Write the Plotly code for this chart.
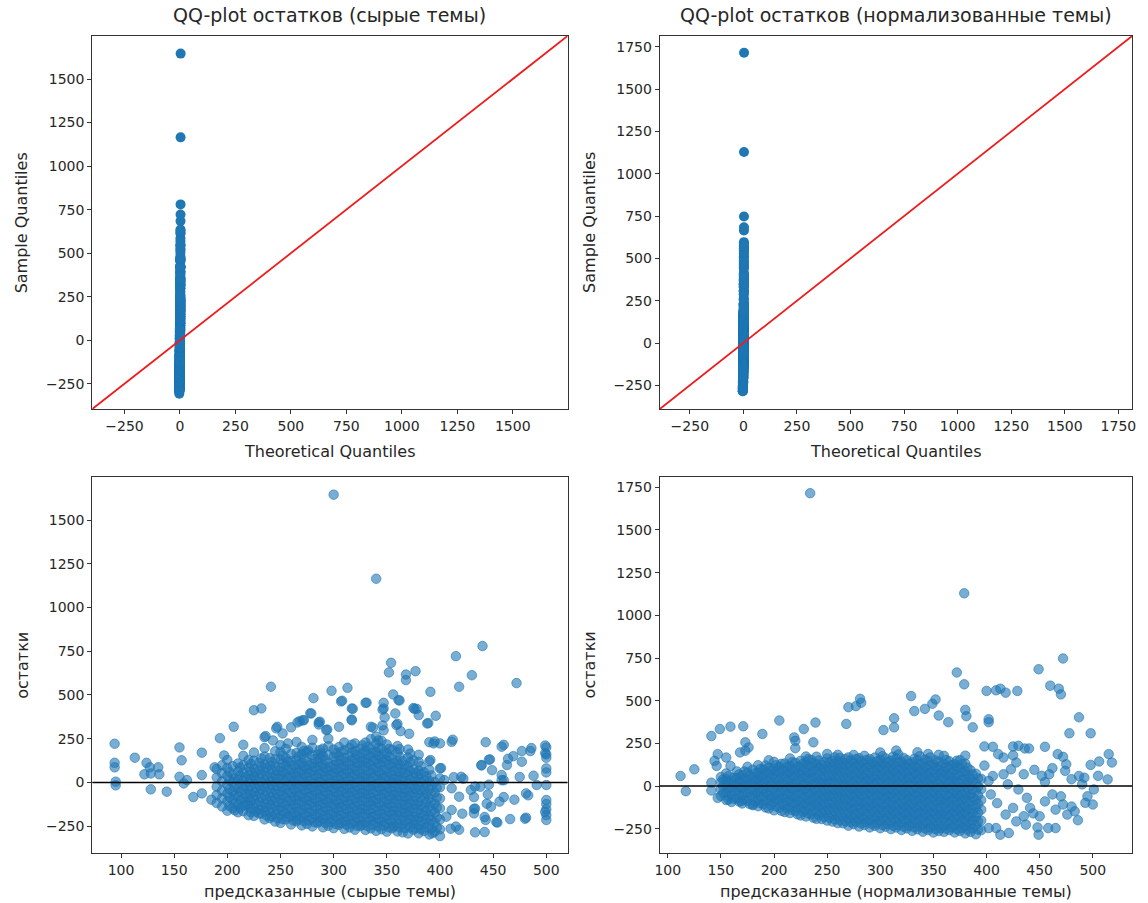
import plotly.graph_objects as go
from statistics import NormalDist

# ---------------- data: raw topics (predicted, residual) ----------------
raw_sparse = [
    (300, 1646), (340, 1165), (440, 780), (415, 722), (472, 568), (430, 613), (418, 547),
    (354, 684), (352, 629), (377, 636), (368, 617), (368, 585), (241, 547), (298, 524),
    (313, 541), (308, 467), (317, 423), (281, 482), (279, 394), (225, 413), (232, 423),
    (330, 455), (356, 503), (361, 470), (347, 455), (347, 423), (375, 425), (378, 421),
    (391, 518), (380, 385), (396, 381), (388, 337), (358, 394), (317, 360), (287, 347),
    (286, 331), (268, 350), (272, 356), (206, 318), (247, 318), (305, 318), (293, 299),
    (335, 318), (346, 326), (359, 328), (363, 293), (193, 253), (236, 265), (215, 215),
    (94, 221), (155, 200), (157, 126), (176, 170), (113, 141), (94, 112), (94, 86),
    (124, 112), (127, 86), (122, 46), (128, 51), (135, 86), (136, 46), (95, 4), (95, -17),
    (128, -40), (143, -53), (155, 32), (159, -6), (162, 13), (168, -84), (176, -63),
    (185, -99), (188, 86), (176, 42), (411, 232), (443, 230), (458, 204), (500, 200),
    (500, 160), (500, 141), (500, 80), (500, 57), (500, -15), (500, -101), (500, -124),
    (500, -154), (500, -187), (500, -215), (491, -15), (488, 38), (477, 118), (469, 150),
    (485, 179), (477, 179), (470, -99), (481, -63), (481, -202), (466, -210), (454, -230),
    (443, -215), (433, -286), (445, -69), (448, -139), (438, -25), (439, 99), (447, 131),
    (449, 70), (458, 42), (463, 99), (458, 13), (456, -110), (432, -152), (432, -177),
    (411, -158), (415, -253), (406, -196), (400, -307), (393, -291), (404, 13), (400, 80),
    (420, 32), (411, -34), (418, -82), (429, -44), (394, 223), (400, 223), (391, 128),
    (197, 154), (235, 258), (246, 309), (252, 280), (260, 315), (266, 343), (271, 355),
    (278, 395), (243, 240), (257, 223), (276, 183), (288, 166), (286, 343), (307, 463),
    (318, 421), (331, 456), (362, 469), (376, 421), (294, 302), (317, 355), (337, 313),
    (347, 298), (346, 416), (348, 372), (360, 335), (371, 278), (389, 339), (390, 230),
    (395, 234), (412, 244), (460, 215), (486, 196), (499, 211), (499, 168), (439, 97),
    (446, 130), (464, 135), (401, 82), (413, 30), (422, 21), (433, -24), (446, -13),
    (460, 12), (475, 31), (432, -84), (444, -122), (460, -84), (483, -74), (499, -169),
    (442, -198), (453, -227), (480, -208), (442, -284), (421, -179), (433, -150),
    (410, -265), (418, -271),
]
raw_core = [
    (190, [-118, -72, -25, 28, 76]),
    (195, [-138, -92, -48, 6, 52, 98]),
    (200, [-162, -108, -63, -14, 37, 82, 128]),
    (205, [-148, -101, -52, 2, 44, 93]),
    (210, [-171, -126, -78, -33, 17, 63, 108]),
    (215, [-165, -133, -91, -38, 11, 57, 99, 152]),
    (220, [-188, -128, -87, -43, 2, 41, 86, 128]),
    (225, [-192, -147, -98, -57, -8, 36, 78, 124, 171]),
    (230, [-178, -157, -112, -63, -22, 27, 71, 113]),
    (235, [-212, -163, -121, -77, -28, 13, 62, 103, 148, 196]),
    (240, [-205, -168, -127, -82, -38, 7, 48, 97, 138]),
    (245, [-224, -182, -133, -92, -43, 2, 43, 92, 133, 178]),
    (250, [-232, -183, -142, -93, -52, -3, 42, 83, 132, 173, 213]),
    (255, [-212, -177, -128, -87, -38, 7, 48, 97, 138, 192]),
    (260, [-241, -193, -152, -103, -62, -13, 32, 73, 122, 163]),
    (265, [-222, -192, -143, -102, -53, -12, 37, 78, 127, 168, 231]),
    (270, [-246, -198, -157, -108, -67, -18, 23, 72, 113, 162, 203]),
    (275, [-238, -197, -148, -107, -58, -17, 32, 73, 118, 172]),
    (280, [-252, -203, -162, -113, -72, -23, 18, 67, 108, 157, 198, 243]),
    (285, [-231, -202, -153, -112, -63, -22, 27, 68, 117, 158]),
    (290, [-257, -208, -167, -118, -77, -28, 13, 62, 103, 152, 193]),
    (295, [-248, -207, -158, -117, -68, -27, 22, 63, 112, 158, 207, 250]),
    (300, [-262, -213, -172, -123, -82, -33, 8, 57, 98, 147, 188]),
    (305, [-243, -212, -163, -122, -73, -32, 17, 58, 107, 148, 202]),
    (310, [-266, -218, -177, -128, -87, -38, 3, 52, 93, 142, 183, 228]),
    (315, [-258, -217, -168, -127, -78, -37, 12, 53, 102, 148, 197]),
    (320, [-271, -223, -182, -133, -92, -43, -2, 47, 88, 137, 178, 223]),
    (325, [-250, -222, -173, -132, -83, -42, 7, 48, 97, 138, 192]),
    (330, [-272, -227, -178, -137, -88, -47, 2, 43, 92, 133, 182, 228]),
    (335, [-263, -218, -177, -128, -87, -38, 3, 52, 98, 147, 193, 248]),
    (340, [-277, -228, -187, -138, -97, -48, -7, 42, 83, 132, 173, 222, 262]),
    (345, [-268, -227, -178, -137, -88, -47, 2, 43, 97, 138, 192, 238]),
    (350, [-282, -233, -192, -143, -102, -53, -12, 37, 78, 127, 168, 217]),
    (355, [-262, -232, -183, -142, -93, -52, -3, 38, 87, 133, 187]),
    (360, [-281, -237, -188, -147, -98, -57, -8, 33, 82, 123, 172, 208]),
    (365, [-286, -238, -197, -148, -107, -58, -17, 32, 73, 122]),
    (370, [-292, -237, -188, -147, -98, -57, -8, 42, 88, 142, 188]),
    (375, [-271, -238, -197, -148, -107, -58, -17, 32, 73, 127]),
    (380, [-291, -243, -202, -153, -112, -63, -22, 27, 68, 117, 158]),
    (385, [-278, -237, -188, -142, -88, -42, 12, 58]),
    (390, [-298, -238, -192, -138, -92, -38, 8, 72, 120]),
    (395, [-283, -232, -173, -122, -58, 2]),
    (400, [-268, -212, -148, -92, -28, 22]),
]
raw_core_dense = [
    (202, [-135, -85, -38, 12, 60]),
    (207, [-160, -122, -75, -25, 20]),
    (212, [-148, -103, -55, -8, 40, 85]),
    (217, [-130, -112, -65, -20, 33]),
    (222, [-170, -150, -107, -65, -22, 20, 62, 105]),
    (227, [-168, -122, -78, -33, 14, 57]),
    (232, [-178, -135, -88, -42, 3, 48, 92, 137]),
    (237, [-190, -143, -98, -52, -8, 38, 83]),
    (242, [-195, -148, -103, -60, -17, 28, 72, 116]),
    (247, [-205, -158, -113, -67, -22, 22, 67]),
    (252, [-210, -162, -118, -72, -28, 18, 62, 108, 152]),
    (257, [-198, -153, -108, -62, -18, 27, 72, 118]),
    (262, [-218, -172, -128, -82, -38, 8, 52, 98]),
    (267, [-212, -168, -122, -78, -32, 13, 58, 103, 148]),
    (272, [-222, -178, -132, -88, -42, 3, 48, 93, 138, 180]),
    (277, [-217, -172, -128, -82, -37, 8, 53, 97]),
    (282, [-228, -182, -138, -92, -47, -2, 43, 88, 133]),
    (287, [-222, -178, -132, -87, -42, 3, 48, 93, 137, 185]),
    (292, [-232, -188, -142, -97, -52, -7, 38, 83, 128]),
    (297, [-228, -183, -137, -92, -47, -2, 43, 88]),
    (302, [-238, -192, -148, -102, -57, -12, 33, 78, 122, 168]),
    (307, [-232, -187, -142, -97, -52, -7, 38, 83, 128, 175]),
    (312, [-242, -197, -152, -107, -62, -17, 28, 73, 118]),
    (317, [-237, -192, -147, -102, -57, -12, 33, 78, 125, 172, 215]),
    (322, [-248, -202, -158, -112, -67, -22, 23, 68, 112, 158]),
    (327, [-242, -197, -152, -107, -62, -17, 28, 73, 118, 165, 212]),
    (332, [-250, -203, -157, -112, -67, -22, 23, 68, 113, 158, 205]),
    (337, [-242, -197, -152, -107, -62, -17, 28, 75, 122, 170]),
    (342, [-252, -207, -162, -117, -72, -27, 18, 63, 108, 153, 198, 240]),
    (347, [-247, -202, -157, -112, -67, -22, 23, 70, 117, 165]),
    (352, [-258, -212, -167, -122, -77, -32, 13, 58, 103, 148, 192]),
    (357, [-252, -207, -162, -117, -72, -27, 18, 63, 110]),
    (362, [-258, -212, -167, -122, -77, -32, 13, 58, 103, 148, 190]),
    (367, [-262, -217, -172, -127, -82, -37, 8, 53, 98]),
    (372, [-258, -212, -167, -122, -77, -32, 15, 65, 115, 165]),
    (377, [-262, -217, -172, -127, -82, -37, 8, 53]),
    (382, [-268, -222, -177, -132, -87, -42, 3, 48, 92]),
    (387, [-258, -212, -165, -115, -65, -15, 35]),
    (392, [-265, -215, -165, -115, -65, -15, 40]),
    (397, [-258, -200, -145, -88, -30]),
]

# ---------------- data: normalized topics (predicted, residual) ----------------
norm_sparse = [
    (234, 1715), (379, 1129), (472, 747), (449, 684), (372, 665), (379, 596), (460, 588),
    (468, 570), (470, 537), (400, 557), (409, 561), (413, 570), (418, 547), (429, 557),
    (329, 527), (352, 507), (349, 482), (281, 511), (282, 488), (270, 462), (277, 468),
    (268, 364), (332, 439), (342, 452), (380, 446), (381, 409), (387, 344), (364, 374),
    (355, 413), (313, 397), (313, 344), (303, 328), (205, 384), (239, 372), (228, 334),
    (159, 348), (171, 350), (149, 334), (141, 293), (189, 305), (237, 256), (219, 285),
    (220, 265), (220, 222), (173, 256), (176, 226), (402, 391), (402, 374), (487, 403),
    (478, 309), (498, 309), (398, 232), (406, 230), (425, 232), (430, 236), (436, 220),
    (440, 220), (455, 230), (467, 187), (472, 171), (475, 128), (474, 89), (498, 124),
    (506, 144), (515, 187), (518, 138), (514, 39), (487, 59), (492, 49), (501, -20),
    (493, -98), (500, -108), (486, -200), (483, -148), (476, -167), (465, -246),
    (458, -246), (448, -242), (450, -177), (449, -285), (441, -128), (438, -69),
    (455, 24), (459, 69), (462, -49), (421, -275), (413, -285), (409, -246), (402, -246),
    (428, -207), (418, -167), (425, -128), (416, 69), (423, 98), (428, 138), (435, 69),
    (411, 187), (416, 167), (406, 59), (402, 30), (404, -49), (435, -177), (437, -226),
    (465, -138), (472, -108), (112, 59), (117, -30), (125, 98), (141, 20), (141, -26),
    (147, -69), (144, 148), (146, 118), (147, 187), (155, 167), (159, 118), (157, -79),
    (169, -89), (180, -108), (168, 197), (173, 207), (445, 95), (452, 60), (462, 105),
    (480, 40), (490, 10), (470, -60), (455, -90), (444, -160), (430, -20), (420, 10),
    (410, -100), (398, 120), (425, 180), (480, -120), (495, -60), (505, 60),
]
norm_core = [
    (150, [-58, -18, 22, 53]),
    (155, [-82, -37, 6, 41, 74]),
    (160, [-93, -52, -11, 31]),
    (165, [-71, -28, 12, 48, 86]),
    (170, [-102, -57, -13, 27, 63]),
    (175, [-86, -41, 2, 38, 79, 113]),
    (180, [-112, -63, -27, 16, 53, 96]),
    (185, [-118, -82, -38, 3, 41, 78, 122]),
    (190, [-107, -61, -22, 19, 62, 98]),
    (195, [-131, -88, -52, -8, 28, 72, 108, 151]),
    (200, [-142, -93, -57, -13, 23, 67, 103, 142]),
    (205, [-127, -83, -47, -3, 33, 77, 113]),
    (210, [-152, -108, -72, -28, 8, 52, 88, 132]),
    (215, [-158, -122, -78, -42, 2, 38, 82, 118, 162]),
    (220, [-147, -103, -67, -23, 13, 57, 93, 137]),
    (225, [-172, -128, -92, -48, -12, 32, 68, 112, 148]),
    (230, [-178, -142, -98, -62, -18, 18, 62, 98, 142, 173]),
    (235, [-167, -123, -87, -43, -7, 37, 73, 117, 153]),
    (240, [-192, -148, -112, -68, -32, 12, 48, 92, 128, 172]),
    (245, [-193, -157, -113, -77, -33, 7, 43, 87, 123]),
    (250, [-202, -158, -122, -78, -42, 2, 38, 82, 118, 162, 188]),
    (255, [-208, -172, -128, -92, -48, -12, 32, 68, 112, 148]),
    (260, [-217, -173, -137, -93, -57, -13, 23, 67, 103, 147, 183]),
    (265, [-218, -182, -138, -102, -58, -22, 22, 58, 102, 138]),
    (270, [-232, -188, -152, -108, -72, -28, 8, 52, 88, 132, 168]),
    (275, [-223, -187, -143, -107, -63, -27, 17, 53, 97, 133, 182]),
    (280, [-237, -193, -157, -113, -77, -33, 3, 47, 83, 127, 163]),
    (285, [-228, -192, -148, -112, -68, -32, 12, 48, 92, 128, 177]),
    (290, [-242, -198, -162, -118, -82, -38, -2, 42, 78, 122, 158]),
    (295, [-233, -197, -153, -117, -73, -37, 7, 43, 87, 123, 167]),
    (300, [-247, -203, -167, -123, -87, -43, -7, 37, 73, 117, 153, 197]),
    (305, [-238, -202, -158, -122, -78, -42, 2, 38, 82, 118, 162]),
    (310, [-252, -208, -172, -128, -92, -48, -12, 32, 68, 112, 148]),
    (315, [-243, -207, -163, -127, -83, -47, -3, 33, 77, 113, 162, 208]),
    (320, [-257, -213, -177, -133, -97, -53, -17, 27, 63, 107, 143]),
    (325, [-248, -212, -168, -132, -88, -52, -8, 28, 72, 108, 152]),
    (330, [-262, -218, -182, -138, -102, -58, -22, 22, 58, 102, 138]),
    (335, [-253, -217, -173, -137, -93, -57, -13, 23, 67, 103, 152, 198]),
    (340, [-267, -223, -187, -143, -107, -63, -27, 17, 53, 97, 133]),
    (345, [-258, -222, -178, -142, -98, -62, -18, 18, 62, 98, 147, 188]),
    (350, [-272, -228, -192, -148, -112, -68, -32, 12, 48, 92, 128]),
    (355, [-263, -227, -183, -147, -103, -67, -23, 13, 57, 93, 142, 183]),
    (360, [-268, -232, -188, -152, -108, -72, -28, 8, 52, 88, 132, 177]),
    (365, [-258, -222, -178, -142, -98, -62, -18, 22, 58, 102, 145]),
    (370, [-272, -228, -192, -148, -112, -68, -32, 12, 48, 92, 128]),
    (375, [-263, -227, -183, -147, -103, -67, -23, 17, 62, 103, 152]),
    (380, [-277, -233, -197, -153, -117, -73, -37, 7, 43, 87, 132, 178]),
    (385, [-268, -227, -178, -137, -88, -47, 2, 43, 92]),
    (390, [-282, -228, -182, -128, -82, -28, 18, 72]),
    (395, [-258, -202, -138, -82, -18, 42]),
]
norm_core_dense = [
    (152, [-40, 0, 38]),
    (157, [-60, -15, 25, 58]),
    (162, [-75, -30, 10, 48]),
    (167, [-90, -50, -8, 30, 68]),
    (172, [-80, -35, 5, 45, 85]),
    (177, [-105, -62, -20, 20, 60]),
    (182, [-90, -45, -5, 35, 75]),
    (187, [-100, -60, -18, 22, 60, 100]),
    (192, [-125, -82, -40, 0, 40, 80, 120]),
    (197, [-112, -70, -30, 10, 50, 90]),
    (202, [-120, -78, -35, 5, 45, 85, 122]),
    (207, [-145, -105, -65, -25, 15, 55, 95, 130]),
    (212, [-130, -90, -50, -10, 30, 70, 110]),
    (217, [-140, -100, -60, -20, 20, 60, 100, 140]),
    (222, [-165, -125, -85, -45, -5, 35, 75, 115]),
    (227, [-150, -110, -70, -30, 10, 50, 90, 130]),
    (232, [-160, -120, -80, -40, 0, 40, 80, 120, 158]),
    (237, [-185, -145, -105, -65, -25, 15, 55, 95, 135]),
    (242, [-170, -130, -90, -50, -10, 30, 70, 110, 150]),
    (247, [-180, -140, -100, -60, -20, 20, 60, 100, 140]),
    (252, [-185, -140, -100, -60, -20, 20, 60, 100, 140]),
    (257, [-195, -150, -110, -70, -30, 10, 50, 90, 130, 168]),
    (262, [-200, -155, -115, -75, -35, 5, 45, 85, 125, 165]),
    (267, [-205, -160, -120, -80, -40, 0, 40, 80, 120, 158]),
    (272, [-212, -170, -130, -90, -50, -10, 30, 70, 110, 150]),
    (277, [-208, -165, -125, -85, -45, -5, 35, 75, 115, 158]),
    (282, [-218, -175, -135, -95, -55, -15, 25, 65, 105, 145]),
    (287, [-212, -170, -130, -90, -50, -10, 30, 70, 110, 152]),
    (292, [-222, -180, -140, -100, -60, -20, 20, 60, 100, 140]),
    (297, [-218, -175, -135, -95, -55, -15, 25, 65, 105, 145]),
    (302, [-228, -185, -145, -105, -65, -25, 15, 55, 95, 135, 175]),
    (307, [-222, -180, -140, -100, -60, -20, 20, 60, 100, 140]),
    (312, [-232, -190, -150, -110, -70, -30, 10, 50, 90, 130, 172]),
    (317, [-228, -185, -145, -105, -65, -25, 15, 55, 95, 138, 185]),
    (322, [-238, -195, -155, -115, -75, -35, 5, 45, 85, 125, 165]),
    (327, [-232, -190, -150, -110, -70, -30, 10, 50, 90, 130]),
    (332, [-242, -200, -160, -120, -80, -40, 0, 40, 80, 120, 160]),
    (337, [-238, -195, -155, -115, -75, -35, 5, 45, 85, 128, 175]),
    (342, [-248, -205, -165, -125, -85, -45, -5, 35, 75, 115, 155]),
    (347, [-242, -200, -160, -120, -80, -40, 0, 40, 80, 122, 168]),
    (352, [-252, -210, -170, -130, -90, -50, -10, 30, 70, 110, 150]),
    (357, [-245, -205, -165, -125, -85, -45, -5, 35, 75, 118]),
    (362, [-250, -210, -170, -130, -90, -50, -10, 30, 70, 110, 152]),
    (367, [-242, -200, -160, -120, -80, -40, 0, 40, 80, 122]),
    (372, [-252, -210, -170, -130, -90, -50, -10, 30, 70, 110, 148]),
    (377, [-245, -205, -165, -125, -85, -45, -5, 38, 82, 128]),
    (382, [-255, -215, -175, -135, -95, -55, -15, 25, 65, 108]),
    (387, [-248, -202, -158, -112, -68, -22, 22, 68]),
    (392, [-255, -205, -155, -105, -55, -5, 45]),
]


def flatten(sparse, *cores):
    xs = [p for p, r in sparse]
    ys = [r for p, r in sparse]
    for core in cores:
        for x, col in core:
            for y in col:
                xs.append(x)
                ys.append(y)
    return xs, ys


pred_raw, resid_raw = flatten(raw_sparse, raw_core, raw_core_dense)
pred_norm, resid_norm = flatten(norm_sparse, norm_core, norm_core_dense)

titles = ["QQ-plot остатков (сырые темы)", "QQ-plot остатков (нормализованные темы)"]
xlabels_bottom = ["предсказанные (сырые темы)", "предсказанные (нормализованные темы)"]

# axis limits as in the reference
qq_lims = [(-395, 1747), (-390, 1814)]
res_xlims = [(73, 520), (92.5, 537)]
res_ylims = [(-404, 1747), (-392, 1810)]


def qq(resid):
    s = sorted(resid)
    n = len(s)
    nd = NormalDist()
    th = [nd.inv_cdf((i + 1) / (n + 1)) for i in range(n)]
    return th, s


BLUE = "#1f77b4"
TXT = "#262626"
FONT = "DejaVu Sans"
W, H = 1148, 903

# domains in pixels
colx = [(88, 567), (660, 1136)]
rowy = [(36, 409), (477, 853)]


def fx(px):
    return px / W


def fy(py):
    return 1 - py / H


fig = go.Figure()

# QQ plots
for i, resid in enumerate([resid_raw, resid_norm]):
    th, s = qq(resid)
    ax = "" if i == 0 else "2"
    fig.add_trace(go.Scatter(
        x=th, y=s, mode="markers", xaxis="x" + ax, yaxis="y" + ax,
        marker=dict(size=10, color=BLUE, line=dict(width=0)), showlegend=False,
        hoverinfo="skip"))
    lo, hi = qq_lims[i]
    fig.add_trace(go.Scatter(
        x=[lo, hi], y=[lo, hi], mode="lines", xaxis="x" + ax, yaxis="y" + ax,
        line=dict(color="#ee1c1c", width=1.8), showlegend=False, hoverinfo="skip"))

# residual scatter plots
for i, (p, r) in enumerate([(pred_raw, resid_raw), (pred_norm, resid_norm)]):
    ax = str(i + 3)
    fig.add_trace(go.Scatter(
        x=p, y=r, mode="markers", xaxis="x" + ax, yaxis="y" + ax,
        marker=dict(size=9.5, color="rgba(31,119,180,0.6)",
                    line=dict(width=1, color="rgba(31,119,180,0.6)")),
        showlegend=False, hoverinfo="skip"))

axis_common = dict(
    showline=True, mirror=True, linecolor="#333333", linewidth=1.2,
    ticks="outside", ticklen=4, tickwidth=1, tickcolor="#333333",
    showgrid=False, zeroline=False,
    tickfont=dict(family=FONT, size=14, color=TXT),
)

layout = dict(
    width=W, height=H, margin=dict(l=0, r=0, t=0, b=0),
    paper_bgcolor="white", plot_bgcolor="white", showlegend=False,
)

specs = [
    (0, 0, qq_lims[0], qq_lims[0], 250, 250),
    (1, 0, qq_lims[1], qq_lims[1], 250, 250),
    (0, 1, res_xlims[0], res_ylims[0], 50, 250),
    (1, 1, res_xlims[1], res_ylims[1], 50, 250),
]
for k, (c, rw, xr, yr, dx, dy) in enumerate(specs):
    n = "" if k == 0 else str(k + 1)
    xa = dict(axis_common, domain=[fx(colx[c][0]), fx(colx[c][1])], range=list(xr),
              dtick=dx, tick0=0, anchor="y" + n)
    ya = dict(axis_common, domain=[fy(rowy[rw][1]), fy(rowy[rw][0])], range=list(yr),
              dtick=dy, tick0=0, anchor="x" + n)
    layout["xaxis" + n] = xa
    layout["yaxis" + n] = ya

fig.update_layout(**layout)

# zero lines in residual panels
for k in (3, 4):
    fig.add_shape(type="line", xref=f"x{k} domain", yref=f"y{k}", x0=0, x1=1, y0=0, y1=0,
                  line=dict(color="black", width=1.5))

ann = []
for c in range(2):
    cx = fx((colx[c][0] + colx[c][1]) / 2)
    ann.append(dict(text=titles[c], x=cx, y=fy(28), xref="paper", yref="paper",
                    xanchor="center", yanchor="bottom", showarrow=False,
                    font=dict(family=FONT, size=19, color=TXT)))
    ann.append(dict(text="Theoretical Quantiles", x=cx, y=fy(451), xref="paper", yref="paper",
                    xanchor="center", yanchor="middle", showarrow=False,
                    font=dict(family=FONT, size=16, color=TXT)))
    ann.append(dict(text=xlabels_bottom[c], x=cx, y=fy(891), xref="paper", yref="paper",
                    xanchor="center", yanchor="middle", showarrow=False,
                    font=dict(family=FONT, size=16, color=TXT)))
    lx = 17 if c == 0 else 589
    ann.append(dict(text="Sample Quantiles", x=fx(lx), y=fy((rowy[0][0] + rowy[0][1]) / 2),
                    xref="paper", yref="paper", xanchor="center", yanchor="middle",
                    textangle=-90, showarrow=False, font=dict(family=FONT, size=16, color=TXT)))
    ann.append(dict(text="остатки", x=fx(lx), y=fy((rowy[1][0] + rowy[1][1]) / 2),
                    xref="paper", yref="paper", xanchor="center", yanchor="middle",
                    textangle=-90, showarrow=False, font=dict(family=FONT, size=16, color=TXT)))
fig.update_layout(annotations=ann)

fig.write_html("out.html", config={"displayModeBar": False},
               post_script="document.body.style.margin='0px';")
